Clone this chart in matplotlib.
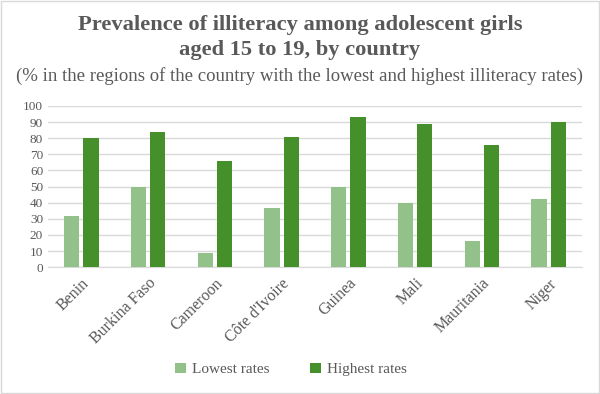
import numpy as np
import matplotlib.pyplot as plt
from matplotlib.patches import Rectangle

countries = ['Benin', 'Burkina Faso', 'Cameroon', "Côte d'Ivoire",
             'Guinea', 'Mali', 'Mauritania', 'Niger']
lowest = [32, 50, 9, 37, 50, 40, 16, 42]
highest = [80, 84, 66, 81, 93, 89, 76, 90]

light = '#92c28a'
dark = '#46902b'
grey = '#595959'

plt.rcParams['font.family'] = ['Liberation Serif', 'DejaVu Serif']

fig = plt.figure(figsize=(6, 3.94), dpi=100)
ax = fig.add_axes([0.08, 0.322, 0.89, 0.409])

x = np.arange(len(countries))
w = 0.23
ax.bar(x - 0.145, lowest, w, color=light, label='Lowest rates', zorder=3)
ax.bar(x + 0.145, highest, w, color=dark, label='Highest rates', zorder=3)

ax.set_xlim(-0.5, len(countries) - 0.5)
ax.set_ylim(0, 100)
ax.set_yticks(range(0, 101, 10))
ax.yaxis.grid(True, color='#d9d9d9', linewidth=1, zorder=0)
for s in ['top', 'right', 'left']:
    ax.spines[s].set_visible(False)
ax.spines['bottom'].set_color('#d9d9d9')
ax.tick_params(length=0, labelsize=9.5, labelcolor=grey)
ax.set_xticks(x)
ax.set_xticklabels(countries, rotation=45, ha='right', rotation_mode='anchor',
                   fontsize=11.5)
ax.tick_params(axis='x', pad=6)

fig.text(0.5, 0.937, 'Prevalence of illiteracy among adolescent girls',
         ha='center', va='center', fontsize=16.2, fontweight='bold', color=grey)
fig.text(0.5, 0.872, 'aged 15 to 19, by country',
         ha='center', va='center', fontsize=16.2, fontweight='bold', color=grey)
fig.text(0.5, 0.808, '(% in the regions of the country with the lowest and highest illiteracy rates)',
         ha='center', va='center', fontsize=13.5, color=grey)

fig.legend(loc='center', bbox_to_anchor=(0.485, 0.062), ncol=2, frameon=False,
           fontsize=11, labelcolor=grey, handlelength=0.7, handleheight=0.7,
           columnspacing=2.7, handletextpad=0.4)

fig.patches.append(Rectangle((0.002, 0.003), 0.996, 0.994, transform=fig.transFigure,
                             fill=False, edgecolor='#d9d9d9', linewidth=1))

fig.savefig('out.png', dpi=100)
